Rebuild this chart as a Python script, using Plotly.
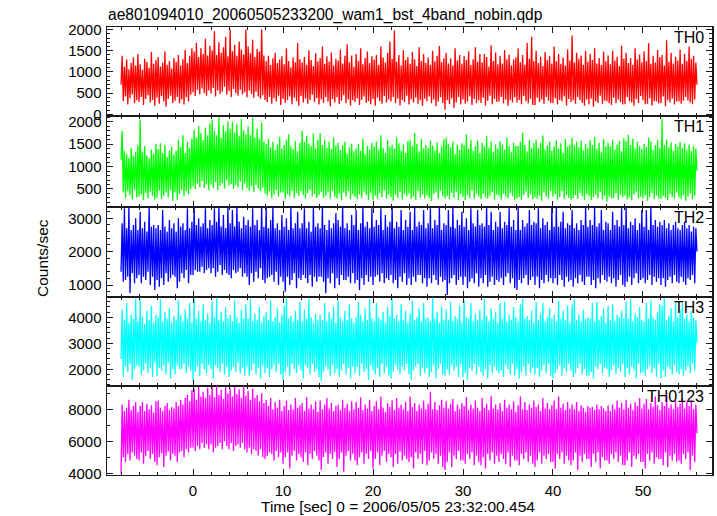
import numpy as np
import plotly.graph_objects as go

# ---- data (0.125 s spacing starting at t = -8 s) ----
t_start = -8.0
t_step = 0.125

th0 = [700, 1380, 310, 1120, 420, 1290, 230, 1060, 380, 1210, 470, 1340, 260, 1150, 330, 1420,
       290, 1180, 410, 1050, 220, 1310, 360, 1240, 450, 1100, 280, 1470, 340, 1190, 200, 1280,
       390, 1350, 250, 1130, 430, 1220, 300, 1490, 180, 1170, 370, 1260, 440, 1080, 270, 1330,
       320, 1240, 410, 1400, 260, 1150, 350, 1300, 230, 1520, 400, 1210, 300, 1380, 460, 1560,
       520, 1480, 430, 1690, 580, 1350, 470, 1560, 610, 1420, 500, 1780, 440, 1390, 560, 1620,
       490, 1510, 620, 1960, 420, 1400, 570, 1700, 480, 1450, 530, 1580, 650, 1830, 460, 1370,
       550, 2000, 410, 1490, 600, 1640, 500, 1380, 440, 1720, 580, 1530, 470, 1410, 520, 2000,
       400, 1600, 560, 1440, 480, 1760, 390, 1350, 530, 1540, 420, 1480, 370, 2000, 450, 1390,
       340, 1250, 290, 1380, 410, 1160, 250, 1320, 380, 1450, 300, 1210, 440, 1290, 220, 1370,
       360, 1180, 270, 1560, 330, 1260, 420, 1110, 240, 1340, 390, 1230, 310, 1680, 200, 1300,
       430, 1220, 280, 1350, 370, 1170, 250, 1510, 340, 1280, 460, 1140, 290, 1440, 380, 1250,
       230, 1330, 350, 1600, 270, 1190, 410, 1370, 300, 1240, 190, 1460, 360, 1150, 280, 1310,
       400, 1270, 240, 1530, 320, 1200, 450, 1380, 260, 1650, 350, 1230, 210, 1390, 330, 1120,
       290, 1420, 380, 1260, 220, 1560, 340, 1180, 420, 1330, 270, 1480, 310, 1210, 240, 1370,
       360, 1290, 200, 1400, 390, 1160, 310, 1600, 250, 1340, 430, 1220, 280, 1450, 350, 1720,
       300, 1310, 410, 1980, 260, 1240, 370, 1400, 210, 1150, 340, 1520, 290, 1280, 440, 1350,
       230, 1190, 350, 1470, 280, 1300, 390, 1140, 250, 1580, 330, 1260, 200, 1420, 370, 1210,
       310, 1340, 420, 1170, 260, 1500, 350, 1250, 190, 1380, 300, 1610, 400, 1230, 270, 1320,
       110, 1450, 330, 1200, 240, 1320, 380, 1150, 150, 1560, 280, 1270, 410, 1400, 230, 1190,
       350, 1370, 250, 1280, 300, 1490, 420, 1160, 220, 1300, 360, 1580, 270, 1240, 330, 1420,
       270, 1220, 390, 1420, 210, 1350, 320, 1130, 440, 1630, 240, 1260, 360, 1460, 290, 1180,
       300, 1380, 410, 1200, 260, 1520, 350, 1290, 200, 1410, 330, 1150, 280, 1290, 400, 1340,
       280, 1550, 340, 1230, 240, 1400, 430, 1170, 310, 1690, 260, 1310, 370, 1830, 220, 1260,
       220, 1500, 390, 1210, 290, 1360, 350, 1140, 250, 1470, 410, 1280, 320, 1380, 270, 1200,
       260, 1600, 380, 1250, 230, 1420, 340, 1190, 300, 1340, 420, 1150, 210, 1530, 360, 1270,
       290, 1860, 330, 1220, 250, 1450, 400, 1310, 330, 1390, 270, 1170, 200, 1500, 350, 1240,
       230, 1420, 370, 1280, 180, 1560, 310, 1200, 270, 1330, 440, 1160, 240, 1480, 320, 1250,
       310, 1390, 260, 1180, 220, 1500, 390, 1270, 260, 1360, 350, 1140, 290, 1620, 230, 1310,
       240, 1450, 410, 1210, 310, 1330, 280, 1170, 200, 1560, 360, 1290, 270, 1410, 430, 1230,
       330, 1490, 240, 1260, 250, 1680, 380, 1190, 210, 1380, 310, 1220, 300, 1520, 260, 1350,
       260, 1400, 420, 1150, 190, 1750, 330, 1240, 280, 1450, 370, 1200, 230, 1360, 300, 1270,
       300, 1530, 250, 1190, 320, 1420, 410, 1260, 320, 1600, 280, 1310, 240, 1380, 350, 1220,
       700]

th1 = [1150, 1800, 420, 1350, 300, 1280, 450, 1190, 360, 1420, 270, 1240, 480, 1330, 310, 1470,
       330, 2050, 380, 1320, 250, 1460, 410, 1250, 290, 1180, 440, 1380, 350, 1290, 260, 1510,
       300, 1390, 460, 1520, 280, 1300, 350, 1480, 420, 1220, 310, 1360, 470, 1440, 240, 1270,
       420, 1350, 260, 1600, 390, 1440, 480, 1700, 340, 1310, 450, 1550, 380, 1420, 500, 1630,
       560, 1820, 500, 1650, 620, 1900, 540, 1750, 680, 1590, 520, 1870, 600, 1700, 470, 1960,
       600, 2050, 520, 1800, 650, 1700, 480, 2100, 570, 1640, 630, 1920, 510, 1780, 690, 2010,
       570, 1850, 610, 2000, 500, 1760, 590, 1950, 540, 1680, 660, 2060, 480, 1810, 620, 1720,
       520, 1900, 460, 1700, 560, 2080, 430, 1650, 590, 1840, 500, 1620, 450, 1980, 530, 1560,
       400, 1500, 350, 1620, 450, 1430, 300, 1550, 380, 1370, 470, 1490, 330, 1660, 420, 1400,
       420, 1480, 280, 1600, 380, 1720, 330, 1450, 460, 1390, 300, 1570, 410, 1340, 350, 1530,
       450, 1800, 360, 1550, 290, 1680, 410, 1520, 480, 1460, 340, 1740, 390, 1410, 300, 1590,
       370, 1750, 440, 1480, 300, 1600, 350, 1420, 430, 1560, 280, 1390, 460, 1650, 320, 1470,
       280, 1530, 390, 1370, 250, 1480, 420, 1560, 330, 1290, 450, 1430, 270, 1510, 380, 1340,
       330, 1400, 270, 1500, 380, 1350, 300, 1620, 440, 1280, 360, 1460, 250, 1380, 410, 1530,
       260, 1450, 350, 1560, 290, 1380, 410, 1700, 320, 1420, 470, 1310, 280, 1590, 370, 1440,
       320, 1480, 240, 1400, 370, 1650, 300, 1520, 430, 1360, 260, 1490, 390, 1300, 340, 1570,
       400, 1590, 280, 1460, 330, 1750, 260, 1500, 450, 1340, 310, 1620, 380, 1410, 290, 1480,
       350, 1420, 300, 1580, 230, 1470, 380, 1360, 420, 1540, 270, 1300, 460, 1450, 330, 1610,
       290, 1640, 340, 1510, 270, 1430, 410, 1550, 310, 1280, 440, 1490, 250, 1370, 390, 1520,
       320, 1480, 250, 1720, 360, 1400, 300, 1600, 470, 1350, 280, 1460, 400, 1580, 330, 1310,
       270, 1530, 390, 1450, 310, 1680, 280, 1420, 350, 1560, 430, 1330, 260, 1490, 370, 1400,
       350, 1570, 260, 1490, 400, 1380, 330, 1640, 290, 1450, 410, 1320, 340, 1530, 250, 1460,
       290, 1460, 320, 1550, 250, 1760, 370, 1480, 440, 1340, 300, 1590, 380, 1410, 270, 1520,
       310, 1600, 280, 1420, 350, 1530, 240, 1690, 420, 1380, 330, 1470, 290, 1560, 460, 1350,
       330, 1450, 390, 1580, 270, 1400, 320, 1520, 450, 1310, 280, 1620, 360, 1440, 300, 1490,
       260, 1640, 300, 1470, 360, 1550, 280, 1430, 410, 1580, 340, 1360, 250, 1500, 390, 1420,
       340, 1590, 250, 1480, 310, 1660, 370, 1400, 290, 1530, 430, 1320, 270, 1610, 350, 1450,
       220, 1530, 330, 1450, 280, 1600, 300, 1380, 400, 1490, 260, 1570, 370, 1340, 310, 1630,
       350, 1570, 270, 1710, 310, 1480, 250, 1620, 380, 1410, 440, 1550, 290, 1460, 330, 1390,
       290, 1500, 360, 1440, 230, 1650, 320, 1560, 410, 1370, 270, 1480, 350, 1590, 300, 1420,
       270, 2060, 340, 1480, 300, 1600, 250, 1430, 390, 1540, 320, 1360, 280, 1510, 420, 1450,
       310, 1550, 280, 1420, 360, 1520, 240, 1380, 330, 1490, 400, 1340, 270, 1460, 350, 1400,
       900]

th2 = [1400, 2850, 1100, 3300, 1150, 2700, 1250, 3350, 760, 2650, 1350, 2800, 1050, 3000, 1200, 2650,
       1300, 3200, 1050, 2700, 1250, 2900, 1150, 2600, 1400, 3350, 1000, 2750, 1250, 2800, 850, 2700,
       1150, 2800, 950, 2650, 1200, 3250, 1000, 2750, 1350, 2600, 1100, 2950, 1200, 2700, 1300, 2850,
       1250, 2600, 900, 3000, 1100, 2750, 1350, 2850, 1200, 2650, 1450, 3300, 1050, 2700, 1300, 2900,
       1300, 3350, 1450, 2800, 1400, 3000, 1400, 2750, 1550, 2850, 1350, 3300, 1450, 2700, 1500, 2950,
       1350, 2800, 1500, 3300, 1250, 2900, 1400, 3350, 1600, 2750, 1300, 3100, 1450, 2700, 1350, 3350,
       1300, 2850, 1200, 3250, 1450, 2750, 1350, 3350, 1400, 2900, 1500, 2700, 1250, 3050, 1350, 2800,
       1250, 2950, 1000, 2750, 1350, 3300, 1100, 2800, 1400, 2950, 1200, 2650, 1500, 3350, 1150, 2750,
       1050, 3350, 1200, 2700, 1250, 2950, 1300, 3350, 1100, 2700, 1400, 2850, 1000, 2650, 1250, 3100,
       1100, 2750, 800, 3000, 1250, 2650, 1000, 3350, 1150, 2700, 1350, 2850, 900, 3200, 1200, 2700,
       1150, 2850, 1300, 3300, 1200, 2700, 1050, 2900, 1300, 2600, 950, 3350, 1250, 2750, 1100, 2850,
       1250, 2700, 1250, 3350, 1100, 2800, 750, 2650, 1200, 2950, 1050, 2700, 1350, 2850, 900, 3150,
       1200, 2950, 1000, 2750, 1300, 3350, 1150, 2700, 1150, 2850, 1250, 2650, 1050, 3100, 1350, 2800,
       1050, 3250, 1150, 2650, 850, 2850, 1200, 3350, 1000, 2750, 1300, 2900, 1100, 2700, 1250, 3300,
       1000, 2750, 1250, 2950, 1300, 2800, 1100, 3300, 1350, 2650, 1050, 3100, 1200, 2750, 1150, 2900,
       1300, 3350, 1050, 2700, 1150, 2900, 900, 2750, 1250, 3250, 1100, 2650, 1350, 2950, 1000, 2750,
       1200, 3200, 1000, 2650, 1250, 3350, 1100, 2750, 1300, 2900, 1300, 2800, 1050, 3250, 1200, 2700,
       950, 2850, 1200, 3300, 1050, 2700, 1300, 2950, 1150, 2800, 1000, 3350, 1250, 2650, 1100, 2850,
       1150, 2800, 700, 3250, 1050, 2750, 1200, 3350, 1300, 2700, 1000, 2950, 1150, 2800, 1250, 3200,
       1000, 2750, 1250, 3000, 900, 2650, 1100, 3300, 1200, 2850, 1050, 2750, 1350, 3250, 950, 2800,
       1200, 2850, 1050, 2750, 1300, 3350, 950, 2800, 1100, 3200, 1250, 2650, 1000, 2900, 1150, 2750,
       1100, 3200, 1200, 2700, 1000, 2900, 1250, 2800, 1350, 3300, 1050, 2750, 1200, 2950, 900, 2650,
       850, 3350, 1150, 2650, 1050, 2950, 1200, 2750, 1300, 2850, 1000, 3250, 1150, 2800, 1250, 2900,
       1000, 2850, 1250, 3300, 900, 2700, 1150, 3000, 1050, 2800, 1300, 2900, 1100, 2650, 1200, 3350,
       1050, 2750, 1200, 3350, 1000, 2750, 1300, 2900, 1150, 3200, 950, 2700, 1250, 2850, 1100, 2800,
       1150, 3250, 950, 2700, 1200, 2850, 1050, 2650, 1300, 2950, 1100, 2800, 1000, 3350, 1250, 2750,
       1250, 2950, 1000, 2800, 1150, 3350, 900, 2750, 1200, 2850, 1050, 3250, 1300, 2650, 1150, 2900,
       1100, 2850, 1250, 2650, 1050, 3200, 1200, 2800, 950, 2950, 1150, 2750, 1300, 3300, 1000, 2800,
       950, 3350, 1100, 2700, 1250, 2900, 1000, 2800, 1200, 3000, 1350, 2650, 1050, 2850, 1150, 3250,
       1200, 2750, 1050, 3250, 1150, 2650, 1300, 3350, 1000, 2800, 1250, 2950, 1100, 2750, 1200, 2900,
       1000, 2800, 1200, 2950, 950, 2700, 1150, 2850, 1250, 2650, 1050, 2800, 1300, 2900, 1100, 2700,
       1050, 2650, 1250, 2800, 1100, 2900, 1000, 2700, 1200, 2800, 1150, 2600, 1300, 2750, 1050, 2700,
       2000]

th3 = [2400, 4300, 1700, 3900, 2100, 4550, 1900, 3800, 2200, 4100, 1600, 3950, 2000, 4700, 2150, 3850,
       2100, 4700, 1800, 4000, 1950, 3750, 2200, 4250, 1850, 3900, 2050, 4450, 1700, 3800, 2250, 4100,
       1750, 4000, 2050, 4700, 1950, 3850, 2150, 4200, 1800, 3950, 2250, 4350, 1650, 3800, 2000, 4050,
       1800, 3900, 2150, 4650, 2000, 4100, 2000, 3850, 2200, 4300, 1850, 3950, 2100, 4550, 1950, 3800,
       1550, 4700, 1900, 3950, 2100, 4250, 1750, 3850, 2200, 4500, 2000, 3900, 1850, 4150, 2150, 3800,
       2000, 4600, 1650, 4000, 2150, 4750, 2050, 3900, 1900, 4200, 2200, 3850, 1800, 4400, 2100, 3950,
       1700, 4100, 1950, 3850, 2100, 4650, 1900, 4000, 2250, 3800, 1850, 4300, 2050, 3950, 1750, 4500,
       2100, 3950, 1750, 4700, 1950, 3850, 2200, 4150, 1800, 3900, 2050, 4400, 1650, 3800, 2150, 4050,
       1850, 4200, 2050, 3900, 1700, 4650, 2000, 3850, 2150, 4000, 1900, 4350, 2200, 3800, 1800, 4100,
       1600, 4450, 1900, 4750, 2100, 3950, 1750, 4050, 2200, 3850, 2000, 4250, 1850, 3900, 2150, 4600,
       1950, 3850, 1650, 4300, 2150, 3950, 2050, 4700, 1800, 4000, 2200, 3800, 1900, 4150, 2000, 3900,
       1700, 4100, 1550, 3900, 1900, 4550, 2100, 3850, 2000, 4200, 1750, 3950, 2150, 4400, 1850, 3800,
       2000, 4650, 1700, 4000, 1950, 3850, 2200, 4250, 1800, 3900, 2050, 4500, 1650, 3950, 2100, 3800,
       1850, 4000, 2100, 4600, 1750, 4100, 2200, 3850, 1900, 4350, 2000, 3900, 1600, 4700, 2150, 3950,
       1950, 3850, 1800, 4550, 2050, 4000, 1700, 3900, 2200, 4200, 1850, 3800, 2100, 4400, 1750, 4050,
       1650, 4700, 1900, 3950, 2150, 4100, 2000, 3850, 1800, 4500, 2100, 3900, 1950, 4250, 2200, 3800,
       1800, 4150, 1600, 4650, 1950, 3900, 2100, 4000, 2200, 4350, 1750, 3850, 2050, 4550, 1850, 3950,
       2050, 4000, 1700, 3850, 1900, 4750, 2150, 3950, 1650, 4200, 2000, 3800, 2200, 4400, 1800, 3900,
       1750, 4300, 2000, 3900, 1800, 4600, 2150, 3850, 1950, 4050, 2100, 3950, 1700, 4450, 2200, 3800,
       1700, 4650, 1850, 4000, 1600, 3950, 2050, 4550, 1950, 3850, 2200, 4150, 1800, 3900, 2100, 4300,
       1900, 3900, 1750, 4700, 2000, 4050, 1650, 3850, 2150, 4350, 1850, 3950, 2100, 4200, 1950, 3800,
       1850, 4550, 1950, 3950, 1700, 4600, 2150, 3850, 2000, 4100, 1800, 3900, 2200, 4400, 1750, 4000,
       2000, 3850, 1650, 4500, 1900, 4700, 2100, 3950, 1750, 4050, 2200, 3900, 1850, 4250, 2050, 3800,
       1800, 4600, 2050, 3900, 1700, 4150, 1950, 4550, 2150, 3850, 1850, 4000, 2200, 4350, 1750, 3950,
       1650, 4100, 1850, 3850, 2000, 4650, 2150, 3950, 1750, 4250, 2050, 3900, 1900, 4450, 2200, 3800,
       1950, 4500, 1700, 4700, 1850, 3900, 2050, 4100, 2200, 3850, 1800, 4300, 2000, 3950, 1750, 4000,
       1750, 3950, 1900, 4550, 1650, 3850, 2100, 4600, 2000, 3900, 2200, 4050, 1850, 4350, 2050, 3800,
       2000, 4450, 1700, 3900, 1950, 4500, 2150, 3850, 1800, 4100, 2050, 4000, 1900, 4250, 2200, 3950,
       1700, 4600, 2050, 3950, 1800, 4700, 2100, 3850, 1950, 4150, 1650, 4000, 2200, 4400, 1850, 3900,
       1900, 3850, 1750, 4550, 2000, 3950, 2150, 4650, 1850, 4000, 2050, 3900, 1700, 4200, 2200, 4500,
       1650, 4450, 1950, 4750, 1700, 3900, 2100, 4050, 2000, 4350, 1800, 3850, 2150, 4600, 1900, 4000,
       1800, 4300, 2000, 4550, 1750, 3950, 1950, 4100, 2100, 3850, 1850, 4250, 2200, 4000, 1950, 3900,
       3000]

th0123 = [4000, 8300, 5000, 7900, 4700, 8100, 5200, 8600, 4800, 7950, 5300, 8200, 5100, 8450, 4900, 7850,
          4800, 8200, 5300, 8450, 4600, 7900, 5100, 8350, 5400, 8000, 4900, 8250, 5200, 7800, 4700, 8500,
          4500, 8550, 5000, 8100, 5250, 7900, 4400, 8200, 5100, 8400, 5350, 7950, 4800, 8150, 5200, 8050,
          5100, 8450, 4700, 8200, 5300, 8600, 5400, 8300, 5000, 8700, 5500, 8900, 5300, 8500, 5600, 9200,
          5600, 9300, 5400, 8600, 5700, 9400, 5500, 8800, 5900, 9100, 5600, 8700, 5800, 9350, 5500, 8900,
          5800, 9400, 5300, 8750, 5600, 9450, 5700, 8900, 5900, 9200, 5500, 8650, 6000, 9400, 5700, 9000,
          5500, 9300, 5900, 8800, 5400, 9400, 5700, 8950, 5800, 9250, 5600, 8700, 5900, 9450, 5500, 8850,
          5300, 9150, 5600, 8600, 5200, 9300, 5500, 8700, 5400, 8900, 5100, 8500, 5500, 9000, 5000, 8400,
          4900, 8600, 5100, 8200, 5300, 8700, 5200, 8000, 4800, 8450, 5400, 8100, 5000, 8600, 5300, 7900,
          4600, 8200, 5000, 8550, 5300, 7950, 4300, 8300, 5100, 8000, 5400, 8700, 4800, 8100, 5200, 8250,
          5000, 8400, 4700, 7900, 5300, 8750, 4500, 8050, 5200, 8300, 4900, 8000, 5400, 8500, 5100, 7850,
          4800, 8550, 4200, 8000, 5000, 8300, 5300, 8700, 4600, 8050, 5200, 8400, 4900, 7900, 5350, 8200,
          4400, 8300, 4900, 7950, 5300, 8600, 4100, 8100, 5100, 8350, 5400, 7900, 4800, 8500, 5200, 8000,
          4800, 8450, 4500, 8100, 5000, 8750, 5300, 7950, 4600, 8300, 5200, 8050, 4900, 8600, 5400, 7900,
          4300, 8200, 4900, 8500, 5300, 8000, 4500, 8800, 5100, 8100, 5400, 7850, 4700, 8400, 5200, 8150,
          5000, 8550, 4400, 7950, 5200, 8700, 4600, 8100, 5350, 8300, 4800, 8000, 5100, 8450, 4900, 7900,
          4700, 8800, 5000, 8150, 4300, 8400, 5300, 7900, 4900, 8300, 5200, 8050, 4600, 8550, 5400, 8000,
          4500, 8350, 4800, 9100, 5300, 8000, 4900, 8450, 5200, 7950, 4600, 8250, 5100, 8600, 4400, 8100,
          4200, 8500, 4700, 8050, 5300, 8350, 4400, 8650, 5100, 7900, 4900, 8300, 5400, 8000, 4800, 8400,
          4800, 8200, 4600, 8750, 5200, 7950, 4900, 8300, 5300, 8050, 4500, 8550, 5100, 8100, 4700, 7900,
          4500, 8700, 5000, 8100, 4300, 8350, 5200, 7950, 4800, 8850, 5300, 8050, 4600, 8300, 5100, 8000,
          4700, 8400, 5200, 7900, 4900, 8600, 4600, 8100, 5300, 8300, 4400, 8000, 5100, 8500, 4800, 7850,
          4800, 8250, 4500, 8800, 5200, 8000, 4900, 8450, 5300, 7950, 4700, 8300, 5100, 8100, 4600, 8550,
          4400, 8150, 4800, 8300, 5300, 7900, 4600, 8700, 5100, 8050, 4900, 8400, 5200, 8000, 4700, 8250,
          4700, 8550, 4300, 8000, 5200, 8800, 4900, 8100, 5300, 8350, 4600, 7950, 5100, 8450, 4800, 8050,
          4500, 8300, 4800, 8000, 5300, 8450, 4200, 7900, 5100, 8250, 4700, 8100, 5200, 7850, 4900, 8200,
          4900, 8100, 4400, 8150, 5200, 7950, 4700, 8300, 5300, 8000, 4300, 8200, 5000, 8050, 4800, 7900,
          4800, 8250, 4600, 7900, 5200, 8300, 4900, 8000, 5300, 8550, 4700, 8100, 5100, 8400, 4500, 8000,
          4500, 8600, 4800, 8100, 5300, 8350, 4400, 7950, 5100, 8450, 4900, 8200, 5200, 8700, 4700, 8050,
          4700, 8350, 4300, 8650, 5200, 8000, 4800, 8400, 5300, 8150, 4600, 8800, 5000, 8250, 4900, 7950,
          4900, 8450, 4500, 8200, 5300, 8850, 4400, 8100, 5100, 8300, 4800, 8000, 5200, 8550, 4700, 8150,
          4800, 8350, 4600, 8700, 5200, 8050, 4900, 8450, 5300, 8200, 4200, 8600, 5100, 8000, 4700, 8300,
          6500]

panel_names = ["TH0", "TH1", "TH2", "TH3", "TH0123"]
panel_series = [th0, th1, th2, th3, th0123]
panel_colors = ["#ff0000", "#00ff00", "#0000ff", "#00ffff", "#ff00ff"]
panel_yranges = [[-40, 2060], [105, 2127], [649, 3348], [1358, 4792], [3894, 9456]]
panel_dtick = [500, 500, 1000, 1000, 2000]
panel_minor = [100, 100, 200, 200, 1000]
x_range = [-9.56, 57.67]

title_text = "ae801094010_20060505233200_wam1_bst_4band_nobin.qdp"
x_title = "Time [sec] 0 = 2006/05/05 23:32:00.454"
y_title = "Counts/sec"

# ---- geometry ----
W, H = 717, 516
ml, mr, mt, mb = 107, 5, 27, 41
ph = H - mt - mb
pw = W - ml - mr
bounds_px = [27, 116, 206.7, 296.7, 386, 475]
def py(v):
    return (H - mb - v) / ph
def px(v):
    return (v - ml) / pw

FONT = "Liberation Sans, Arial, sans-serif"
INK = "#1a1a1a"

fig = go.Figure()
layout = dict(
    width=W, height=H,
    margin=dict(l=ml, r=mr, t=mt, b=mb, autoexpand=False),
    paper_bgcolor="white", plot_bgcolor="white",
    showlegend=False,
    font=dict(family=FONT, size=15, color="black"),
)
annotations = []
for i, (name, vals, col, yr, dt, mn) in enumerate(
        zip(panel_names, panel_series, panel_colors, panel_yranges, panel_dtick, panel_minor)):
    k = i + 1
    t = t_start + t_step * np.arange(len(vals))
    xref = "x" if k == 1 else f"x{k}"
    yref = "y" if k == 1 else f"y{k}"
    fig.add_trace(go.Scatter(x=t, y=vals, mode="lines",
                             line=dict(color=col, width=1.3),
                             xaxis=xref, yaxis=yref, hoverinfo="skip"))
    top, bot = bounds_px[i], bounds_px[i + 1]
    xa = dict(domain=[0, 1], anchor=yref, range=x_range, automargin=False,
              showline=True, linecolor=INK, linewidth=1, mirror="ticks",
              ticks="inside", ticklen=6, tickwidth=1, tickcolor=INK,
              tick0=0, dtick=10,
              minor=dict(dtick=2, ticks="inside", ticklen=3, tickwidth=1, tickcolor=INK),
              showgrid=False, zeroline=False,
              showticklabels=(k == 5), tickfont=dict(size=15),
              ticklabelstandoff=2)
    if k != 1:
        xa["matches"] = "x"
    ya = dict(domain=[py(bot), py(top)], anchor=xref, range=yr, automargin=False,
              showline=True, linecolor=INK, linewidth=1.5, mirror="ticks",
              ticks="inside", ticklen=6, tickwidth=1, tickcolor=INK,
              tick0=0, dtick=dt,
              minor=dict(dtick=mn, ticks="inside", ticklen=3, tickwidth=1, tickcolor=INK),
              showgrid=False, zeroline=False,
              tickfont=dict(size=15), ticklabelstandoff=1)
    layout["xaxis" if k == 1 else f"xaxis{k}"] = xa
    layout["yaxis" if k == 1 else f"yaxis{k}"] = ya
    annotations.append(dict(text=name, xref="paper", yref="paper",
                            x=px(706), y=py(top + 10.5), xanchor="right", yanchor="middle",
                            showarrow=False, font=dict(size=16, color="black")))

annotations.append(dict(text=title_text, xref="paper", yref="paper",
                        x=px(106), y=py(15), xanchor="left", yanchor="middle",
                        showarrow=False, font=dict(size=15.6, color="black")))
annotations.append(dict(text=x_title, xref="paper", yref="paper",
                        x=px(397.5), y=py(506.5), xanchor="center", yanchor="middle",
                        showarrow=False, font=dict(size=15.5, color="black")))
annotations.append(dict(text=y_title, xref="paper", yref="paper",
                        x=px(42), y=py(258), xanchor="center", yanchor="middle",
                        textangle=-90, showarrow=False, font=dict(size=15.5, color="black")))
layout["annotations"] = annotations
fig.update_layout(**layout)
fig.write_html("out.html",
               config={"displayModeBar": False, "staticPlot": True},
               post_script="document.body.style.margin='0';document.body.style.padding='0';"
                           "document.documentElement.style.overflow='hidden';")
